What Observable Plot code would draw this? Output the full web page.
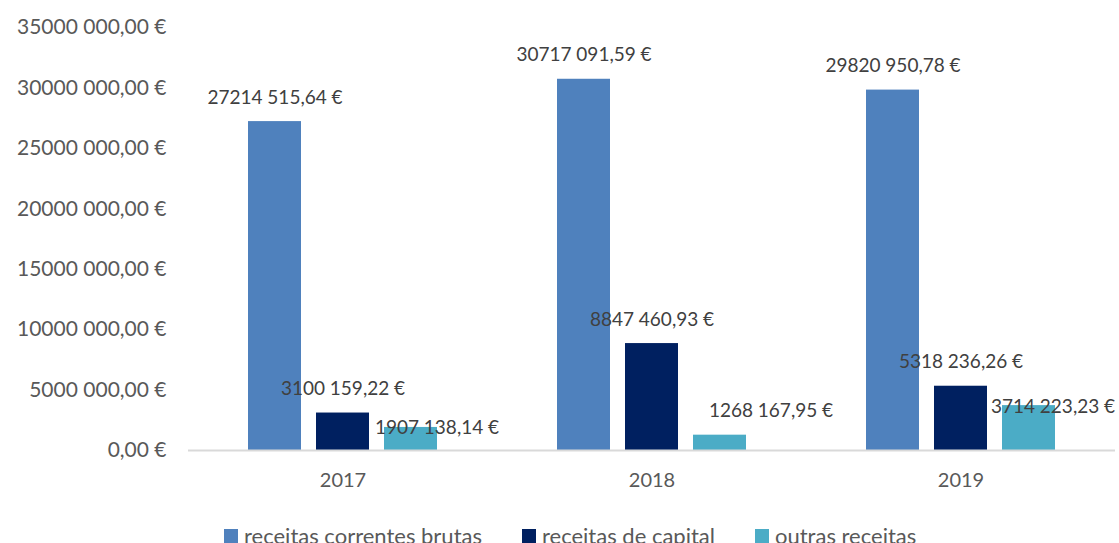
<!DOCTYPE html>
<html>
<head>
<meta charset="utf-8">
<script src="https://cdn.jsdelivr.net/npm/d3@7"></script>
<script src="https://cdn.jsdelivr.net/npm/@observablehq/plot@0.6"></script>
<style>
  html, body { margin: 0; padding: 0; background: #fff; overflow: hidden; }
  #wrap { position: relative; width: 1119px; height: 543px; font-family: Lato, "Open Sans", sans-serif; overflow: hidden; }
  #legend { position: absolute; left: 224px; top: 522px; display: flex; align-items: center; font-size: 22px; line-height: 28px; color: #595959; white-space: nowrap; }
  .item { display: flex; align-items: center; margin-right: 40px; }
  .sw { width: 14px; height: 14px; margin-right: 6px; }
</style>
</head>
<body>
<div id="wrap"><div id="chart"></div><div id="legend"></div></div>
<script>
const years = ["2017", "2018", "2019"];
const seriesNames = ["receitas correntes brutas", "receitas de capital", "outras receitas"];
const correntes = [27214515.64, 30717091.59, 29820950.78];
const capital = [3100159.22, 8847460.93, 5318236.26];
const outras = [1907138.14, 1268167.95, 3714223.23];
const yTicks = [0, 5000000, 10000000, 15000000, 20000000, 25000000, 30000000, 35000000];
const colors = ["#4f81bd", "#002060", "#4bacc6"];

function fmt(v) {
  const cents = Math.round(v * 100);
  const intPart = String(Math.floor(cents / 100));
  const dec = String(cents % 100).padStart(2, "0");
  const head = intPart.length > 3 ? intPart.slice(0, -3) + " " + intPart.slice(-3) : intPart;
  return head + "," + dec + " €";
}

const valuesBySeries = [correntes, capital, outras];
const data = [];
years.forEach((y, i) => {
  seriesNames.forEach((s, j) => {
    data.push({year: y, series: s, value: valuesBySeries[j][i]});
  });
});

const lbl = {fx: "year", x: "series", y: "value", text: d => fmt(d.value), fill: "#404040", fontSize: 19, lineAnchor: "middle"};
const teal = seriesNames[2];
const tealOffsets = {"2017": [26, 0], "2018": [51, -24], "2019": [24, 1]};

const marks = [
  Plot.barY(data, {fx: "year", x: "series", y: "value", fill: "series"}),
  Plot.ruleY([0], {stroke: "#d9d9d9", strokeWidth: 2}),
  Plot.text(data.filter(d => d.series !== teal), {...lbl, dy: -24}),
  ...years.map(y => Plot.text(data.filter(d => d.series === teal && d.year === y), {...lbl, dx: tealOffsets[y][0], dy: tealOffsets[y][1]})),
  Plot.axisY({ticks: yTicks, tickFormat: fmt, tickSize: 0, tickPadding: 22, color: "#595959", fontSize: 21, label: null}),
  Plot.axisFx({anchor: "bottom", tickSize: 0, tickPadding: 22, color: "#595959", fontSize: 20, label: null})
];

const chart = Plot.plot({
  width: 1119,
  height: 522,
  marginLeft: 187,
  marginRight: 3,
  marginTop: 27,
  marginBottom: 72,
  style: {fontFamily: "Lato, 'Open Sans', sans-serif", fontSize: "21px", overflow: "visible"},
  fx: {domain: years, padding: 0},
  x: {domain: seriesNames, paddingInner: 0.226, paddingOuter: 0.876, axis: null},
  y: {domain: [0, 35000000], axis: null},
  color: {domain: seriesNames, range: colors},
  marks
});
document.getElementById("chart").appendChild(chart);

const legend = document.getElementById("legend");
seriesNames.forEach((s, j) => {
  const it = document.createElement("div");
  it.className = "item";
  const sw = document.createElement("div");
  sw.className = "sw";
  sw.style.background = colors[j];
  const t = document.createElement("span");
  t.textContent = s;
  it.appendChild(sw); it.appendChild(t);
  legend.appendChild(it);
});
</script>
</body>
</html>
